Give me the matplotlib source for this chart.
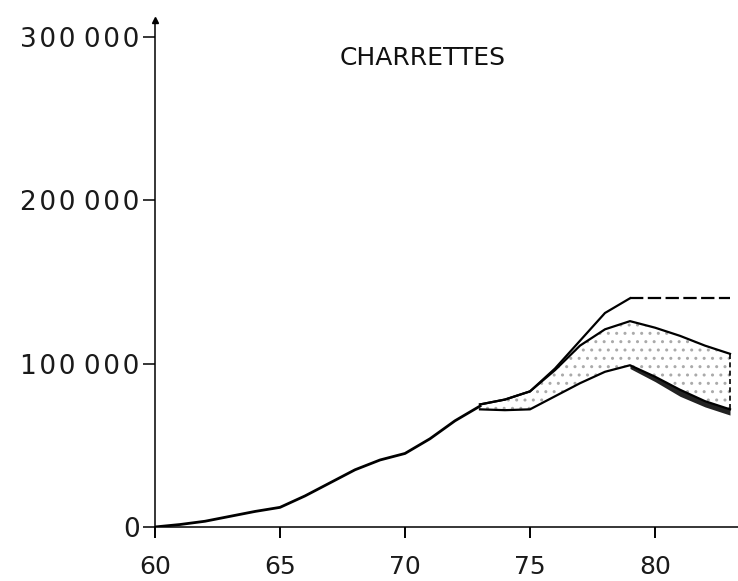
import matplotlib.pyplot as plt

# historical series (carts), 1960-1973
years = [60, 61, 62, 63, 64, 65, 66, 67, 68, 69, 70, 71, 72, 73]
carts = [0, 1500, 3500, 6500, 9500, 12000, 19000, 27000, 35000, 41000, 45000, 54000, 65000, 74000]

# projections 1973-1983
up_years = [73, 74, 75, 76, 77, 78, 79]
up_vals = [75000, 78000, 83000, 97000, 114000, 131000, 140000]
flat_years = [79, 80, 81, 82, 83]
flat_vals = [140000, 140000, 140000, 140000, 140000]

band_years = [73, 74, 75, 76, 77, 78, 79, 80, 81, 82, 83]
band_top = [75000, 78000, 83000, 96000, 111000, 121000, 126000, 122000, 117000, 111000, 106000]
band_bot = [72000, 71500, 72000, 80000, 88000, 95000, 99000, 92000, 84000, 77000, 72000]

low_years = [79, 80, 81, 82, 83]
low_top = [99000, 92000, 84000, 77000, 72000]
low_bot = [97000, 89000, 80000, 73500, 68500]

ytick_vals = [0, 100000, 200000, 300000]
H = '\u200a'
ytick_labels = ['0', '1' + H + '0' + H + '0 ' + '0' + H + '0' + H + '0',
                '2' + H + '0' + H + '0 ' + '0' + H + '0' + H + '0',
                '3' + H + '0' + H + '0 ' + '0' + H + '0' + H + '0']

fig = plt.figure(figsize=(7.38, 5.81), dpi=100)
ax = fig.add_axes([0.21, 0.093, 0.79, 0.873])

ax.plot(years, carts, color='black', linewidth=2.0)
ax.plot(up_years, up_vals, color='black', linewidth=1.6)
ax.plot(flat_years, flat_vals, color='black', linewidth=1.6, linestyle=(0, (6, 2)))

ax.fill_between(band_years, band_bot, band_top, facecolor='white', edgecolor='#aaaaaa',
                hatch='..', linewidth=0)
ax.plot(band_years, band_top, color='black', linewidth=1.6)
ax.plot(band_years, band_bot, color='black', linewidth=1.6)
ax.fill_between(low_years, low_bot, low_top, color='#222222', linewidth=0)
ax.plot([83, 83], [band_bot[-1], band_top[-1]], color='black', linewidth=1.2, linestyle=(0, (3, 2)))

ax.text(70.7, 287000, 'CHARRETTES', fontsize=18, ha='center', va='center', color='#111111')

ax.set_xlim(60, 83.32)
ax.set_ylim(0, 310500)
ax.set_xticks([60, 65, 70, 75, 80])
ax.set_yticks(ytick_vals)
ax.set_yticklabels(ytick_labels)

for s in ['top', 'right']:
    ax.spines[s].set_visible(False)
for s in ['left', 'bottom']:
    ax.spines[s].set_linewidth(1.1)

ax.tick_params(axis='y', length=9, width=1.1, pad=2, labelsize=19)
ax.tick_params(axis='x', length=8, width=1.4, pad=12, labelsize=18)
for lab in ax.get_xticklabels() + ax.get_yticklabels():
    lab.set_color('#1a1a1a')

# arrow at top of the vertical axis
ax.plot([60], [310500], marker='^', color='black', markersize=5, clip_on=False)

fig.savefig('out.png', dpi=100)
